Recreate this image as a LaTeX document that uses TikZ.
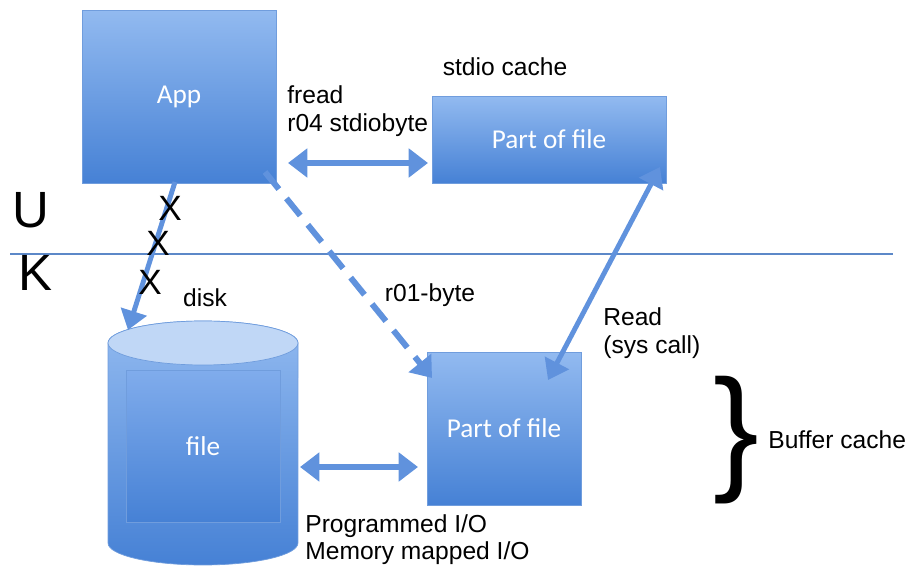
\documentclass[tikz,border=0pt]{standalone}
\usepackage{fontspec}
\setmainfont{Liberation Sans}
\newfontfamily\boxfont{Carlito}
\usetikzlibrary{arrows.meta}
\definecolor{boxtop}{RGB}{146,186,240}
\definecolor{boxbot}{RGB}{70,129,213}
\definecolor{boxline}{RGB}{112,157,221}
\definecolor{arrowblue}{RGB}{96,146,221}
\definecolor{lidblue}{RGB}{192,215,246}
\definecolor{lineblue}{RGB}{92,136,200}
\tikzset{
  block/.style={
    shape = rectangle,
    draw = boxline,
    top color = boxtop,
    bottom color = boxbot,
    text = white,
    font = \boxfont\fontsize{15.5}{18}\selectfont,
    inner sep = 0pt
  },
  txt/.style={
    font = \fontsize{14}{17}\selectfont,
    inner sep = 0pt
  },
  big/.style={
    font = \fontsize{29}{32}\selectfont,
    inner sep = 0pt
  },
  cross/.style={
    font = \fontsize{20}{22}\selectfont,
    inner sep = 0pt
  },
  fat/.style={
    draw = arrowblue,
    line width = 3.4pt,
    {Triangle[width=16pt,length=11pt]}-{Triangle[width=16pt,length=11pt]}
  },
  slim/.style={
    draw = arrowblue,
    line width = 2.8pt
  }
}
\begin{document}
\begin{tikzpicture}[x=0.02cm,y=0.02cm]
        \useasboundingbox (0,0) rectangle (911,571);

        % user / kernel split
        \coordinate (sl) at (10,317);
        \coordinate (sr) at (893,317);
        \draw[lineblue, line width=1.4pt] (sl) -- (sr);
        \node[big] (u) at (31,361) {U};
        \node[big] (k) at (35,298) {K};

        % boxes
        \node[block, minimum width=3.88cm, minimum height=3.46cm] (app) at (179,474.5) {App};
        \node[block, minimum width=4.68cm, minimum height=1.74cm] (stdio) at (549,431.5) {Part of file};
        \node[block, minimum width=3.08cm, minimum height=3.06cm] (buf) at (504,142.5) {Part of file};

        % disk
        \path[draw=boxline, top color=boxtop, bottom color=boxbot] (108,228) -- (108,28)
          arc[start angle=180, end angle=360, x radius=1.9cm, y radius=0.44cm] -- (298,228)
          arc[start angle=0, end angle=180, x radius=1.9cm, y radius=0.44cm] -- cycle;
        \draw[boxline, fill=lidblue] (203,228) ellipse [x radius=1.9cm, y radius=0.44cm];
        \node[block, minimum width=3.08cm, minimum height=3.04cm, top color={rgb,255:red,128;green,172;blue,236}] (file) at (203,125) {file};
        \coordinate (disktop) at (128,241);

        % labels
        \node[txt, anchor=west, align=left] (fread) at (287,460) {fread\\[-1pt]r04 stdiobyte};
        \node[txt] (cache) at (505,504) {stdio cache};
        \node[txt] (dsk) at (205,273) {disk};
        \node[txt] (rbyte) at (430,276) {r01-byte};
        \node[txt, anchor=west, align=left] (rd) at (603,238) {Read\\[-1pt](sys call)};
        \node[txt, anchor=west, align=left] (pio) at (305,31.5) {Programmed I/O\\[-2pt]Memory mapped I/O};
        \node[font=\fontsize{78}{78}\selectfont, inner sep=0pt] (brace) at (736,131) {\}};
        \node[txt, anchor=west] (bc) at (768,131) {Buffer cache};

        % arrows
        \coordinate (f1) at (288,408);
        \coordinate (f2) at (428,408);
        \draw[fat] (f1) -- (f2);
        \coordinate (p1) at (300,104);
        \coordinate (p2) at (418,104);
        \draw[fat] (p1) -- (p2);
        \coordinate (r1) at (548,191);
        \coordinate (r2) at (660,404);
        \draw[slim, {Triangle[width=15pt,length=11pt]}-{Triangle[width=15pt,length=11pt]}] (r1) -- (r2);
        \coordinate (a1) at (175,389);
        \draw[slim, -{Triangle[width=15pt,length=11pt]}] (a1) -- (disktop);
        \coordinate (d1) at (265,399);
        \coordinate (d2) at (432,193);
        \draw[slim, line width=3.4pt, dash pattern=on 0.44cm off 0.24cm, -{Triangle[width=16pt,length=11pt]}] (d1) -- (d2);

        \node[cross] (x1) at (170,363) {X};
        \node[cross] (x2) at (158,328) {X};
        \node[cross] (x3) at (150,289) {X};
\end{tikzpicture}
\end{document}
